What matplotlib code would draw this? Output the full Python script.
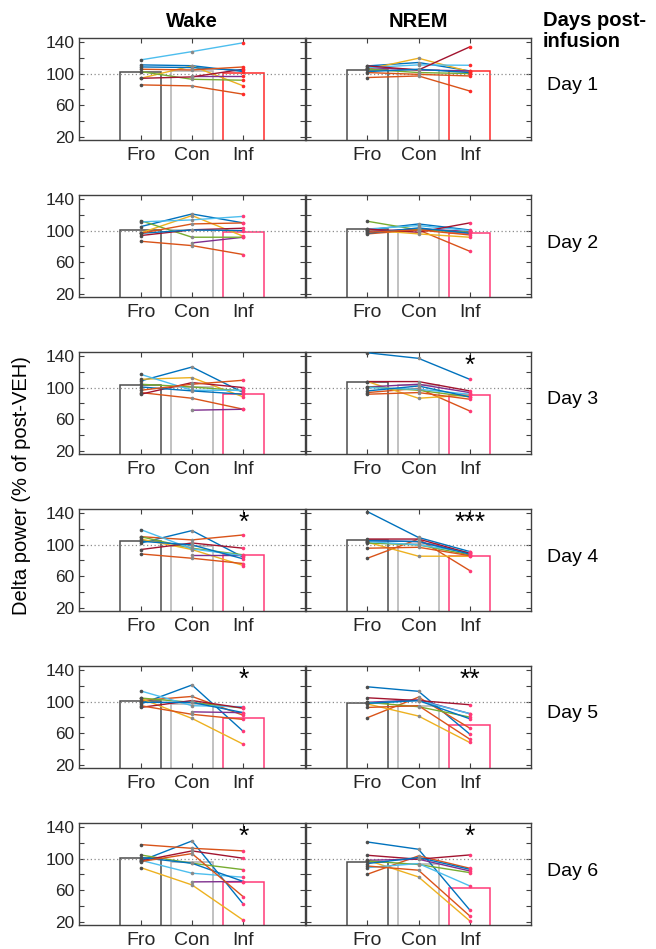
import numpy as np
import matplotlib.pyplot as plt

plt.rcParams['font.family'] = ['Liberation Sans', 'DejaVu Sans']

regions = ['Fro', 'Con', 'Inf']
days = ['Day 1', 'Day 2', 'Day 3', 'Day 4', 'Day 5', 'Day 6']
nan = np.nan

# one row per day, one column per animal (MATLAB colour order)
wake_fro = [
    [111.0, 85.7, 94.0, nan, 102.5, 117.3, 94.0, 108.4, 105.5],
    [105.0, 86.5, 97.0, nan, 112.6, 111.0, 93.7, 96.6, 96.6],
    [108.4, 93.7, 110.5, nan, 104.2, 116.8, 91.6, 100.8, 96.6],
    [102.0, 110.0, 107.0, nan, 110.0, 119.0, 93.7, 104.2, 88.2],
    [97.0, 101.3, 104.0, nan, 104.5, 113.5, 92.6, 99.0, 94.8],
    [97.0, 117.7, 88.6, nan, 104.6, 97.9, 97.0, 101.3, 96.2],
]
wake_con = [
    [110.0, 84.4, 109.7, 97.0, 92.8, 127.8, 95.8, 107.6, 104.6],
    [121.0, 81.0, 119.0, 84.4, 91.6, 113.5, 101.0, 100.8, 108.4],
    [126.0, 86.5, 112.6, 71.4, 100.8, 96.6, 106.3, 95.8, 104.2],
    [117.7, 105.9, 93.7, 87.0, 95.4, 94.5, 102.0, 99.6, 82.7],
    [121.0, 106.5, 78.7, 87.0, 99.0, 94.8, 101.3, 99.0, 83.9],
    [122.3, 113.0, 66.7, 70.5, 94.1, 81.5, 109.7, 94.1, 106.3],
]
wake_inf = [
    [102.5, 73.9, 84.4, 97.0, 91.6, 139.0, 105.5, 104.0, 108.4],
    [109.7, 69.7, 92.8, 91.6, 91.6, 118.0, 103.0, 100.0, 109.7],
    [93.7, 72.6, 88.2, 72.6, 95.8, 96.6, 100.0, 91.6, 109.3],
    [84.0, 112.2, 73.5, 87.0, 87.0, 86.0, 95.4, 81.9, 76.0],
    [62.2, 82.6, 46.0, 86.0, 91.7, 93.5, 91.7, 86.0, 77.4],
    [42.3, 109.7, 22.0, 71.0, 86.0, 76.4, 100.4, 71.0, 51.6],
]

nrem_fro = [
    [109.7, 95.0, 105.5, 107.6, 105.5, 107.6, 109.7, 102.5, 101.3],
    [100.8, 95.8, 100.8, 99.0, 111.8, 102.0, 102.0, 96.6, 97.9],
    [144.0, 93.7, 107.6, 100.8, 100.8, 100.0, 107.6, 95.8, 91.6],
    [141.7, 82.7, 103.0, 105.0, 102.0, 103.8, 107.0, 105.0, 95.4],
    [118.7, 79.6, 97.0, 99.0, 99.0, 97.9, 104.8, 97.9, 92.6],
    [121.0, 80.2, 97.9, 97.9, 97.0, 88.6, 104.2, 93.7, 90.6],
]
nrem_con = [
    [114.0, 97.0, 119.4, 104.6, 101.3, 111.0, 104.6, 105.5, 99.0],
    [108.4, 100.8, 95.8, 102.0, 100.8, 106.3, 97.9, 103.4, 100.8],
    [137.0, 99.0, 86.5, 104.2, 96.6, 97.9, 107.6, 102.0, 93.7],
    [109.0, 107.0, 85.3, 103.8, 99.6, 99.6, 107.0, 103.8, 96.6],
    [113.0, 105.6, 81.7, 102.2, 93.5, 101.3, 101.3, 101.3, 94.8],
    [111.8, 103.4, 76.8, 99.2, 92.5, 93.7, 99.2, 101.3, 85.3],
]
nrem_inf = [
    [103.4, 78.0, 102.5, 103.4, 100.0, 110.5, 133.7, 101.3, 97.0],
    [100.8, 73.9, 91.6, 99.0, 97.9, 100.0, 109.7, 96.6, 94.5],
    [110.5, 70.5, 90.7, 93.7, 88.2, 91.6, 95.8, 88.2, 85.3],
    [91.2, 67.2, 85.3, 89.0, 87.0, 90.2, 89.0, 88.0, 86.0],
    [59.0, 66.5, 48.3, 84.8, 80.4, 84.8, 96.0, 78.3, 52.6],
    [35.2, 87.8, 21.3, 84.4, 82.3, 65.5, 104.6, 86.5, 27.6],
]

# group means shown as open bars (Fro, Con, Inf)
wake_mean = [
    [102.5, 102.8, 101.3],
    [100.8, 101.0, 98.0],
    [103.4, 100.8, 91.6],
    [105.0, 98.7, 87.4],
    [100.4, 97.0, 78.7],
    [100.8, 96.2, 70.5],
]
nrem_mean = [
    [104.6, 105.0, 103.4],
    [101.7, 100.5, 96.6],
    [107.6, 103.4, 90.7],
    [105.9, 100.8, 85.3],
    [98.3, 94.8, 70.9],
    [96.2, 92.8, 63.4],
]

wake_stars = ['', '', '', '*', '*', '*']
nrem_stars = ['', '', '*', '***', '**', '*']

line_colors = ['#0072BD', '#D95319', '#EDB120', '#7E2F8E',
               '#77AC30', '#4DBEEE', '#A2142F']
fro_color = '#4d4d4d'
con_color = '#b0b0b0'
axis_color = '#404040'
text_color = '#262626'

W, H = 656, 949
fig = plt.figure(figsize=(W / 100, H / 100), dpi=100)


def draw_panel(ax, fro, con, inf, means, star, inf_color, show_labels):
    x = np.arange(1, 4)
    ax.bar(x, means, width=0.8, bottom=0, color='white',
           edgecolor=[fro_color, con_color, inf_color], linewidth=1.1, zorder=1)
    ax.axhline(100, color='#8c8c8c', ls=(0, (1, 2)), lw=0.9, zorder=2)
    dot_colors = [fro_color, '#8a8a8a', inf_color]
    for k in range(len(fro)):
        vals = np.array([fro[k], con[k], inf[k]])
        ax.plot(x, vals, color=line_colors[k % 7], lw=1.0, zorder=3)
        for i in range(3):
            if not np.isnan(vals[i]):
                ax.plot(x[i], vals[i], 'o', color=dot_colors[i], ms=2.6,
                        mec='none', zorder=4)
    if star:
        ax.text(3, 119, star, ha='center', va='baseline', fontsize=19,
                color='black', zorder=5)

    ax.set_xlim(-0.2, 4.2)
    ax.set_ylim(16, 145)
    ax.set_xticks(x)
    ax.set_xticklabels(regions)
    ax.set_yticks(np.arange(20, 141, 20))
    if show_labels:
        ax.set_yticklabels(['20', '', '60', '', '100', '', '140'])
    else:
        ax.set_yticklabels([])
    ax.tick_params(direction='in', length=3.5, width=0.8, color=axis_color,
                   top=True, right=True, labelcolor=text_color)
    ax.tick_params(axis='x', labelsize=14, pad=5)
    ax.tick_params(axis='y', labelsize=12.5, pad=3)
    for s in ax.spines.values():
        s.set_color(axis_color)
        s.set_linewidth(1.0)


for d in range(6):
    top = 38 + 157 * d
    bottom = 1 - (top + 102) / H
    inf_color = '#ff2a2a' if d == 0 else '#ff3a78'
    ax_w = fig.add_axes([79 / W, bottom, 226 / W, 102 / H])
    ax_n = fig.add_axes([306 / W, bottom, 225 / W, 102 / H])
    draw_panel(ax_w, wake_fro[d], wake_con[d], wake_inf[d], wake_mean[d],
               wake_stars[d], inf_color, True)
    draw_panel(ax_n, nrem_fro[d], nrem_con[d], nrem_inf[d], nrem_mean[d],
               nrem_stars[d], inf_color, False)
    fig.text(547 / W, 1 - (top + 48) / H, days[d], fontsize=14,
             ha='left', va='center', color='black')
    if d == 0:
        ax_w.set_title('Wake', fontsize=14.5, fontweight='bold', pad=8)
        ax_n.set_title('NREM', fontsize=14.5, fontweight='bold', pad=8)

fig.text(543 / W, 1 - 31 / H, 'Days post-\ninfusion', fontsize=14.5,
         fontweight='bold', ha='left', va='center', linespacing=1.15)
fig.text(22 / W, 1 - 486 / H, 'Delta power (% of post-VEH)', fontsize=14.5,
         rotation=90, ha='center', va='center', color='black')

fig.savefig('out.png', dpi=100)
